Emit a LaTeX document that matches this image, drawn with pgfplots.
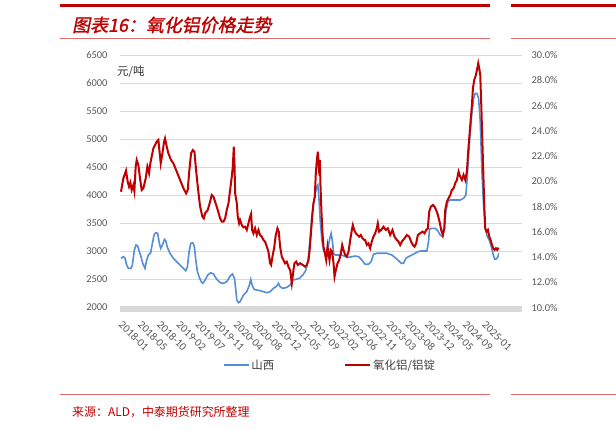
\documentclass[border=0pt]{standalone}
\usepackage{fontspec}
\setmainfont{Carlito}
\newfontfamily\cjk{Noto Sans CJK SC}
\newfontfamily\cjktitle[FakeSlant=0.2,FakeBold=1.5]{Noto Sans CJK SC}
\usepackage{pgfplots}
\pgfplotsset{compat=1.18}

\definecolor{hdred}{RGB}{192,0,0}
\definecolor{rulered}{RGB}{222,110,110}
\definecolor{sxblue}{RGB}{85,142,213}
\definecolor{ratred}{RGB}{192,0,0}
\definecolor{tickgray}{RGB}{89,89,89}
\definecolor{gridgray}{RGB}{217,217,217}

\pgfplotsset{
  base/.style={
    scale only axis, width=402bp, height=252.5bp,
    at={(120bp,122.5bp)}, anchor=south west,
    xmin=0, xmax=93,
    axis line style={draw=none},
    tick style={draw=none},
    tick label style={font=\fontsize{10.5}{12}\selectfont, text=tickgray},
    /pgf/number format/assume math mode=true,
    /pgf/number format/1000 sep={},
    clip=false,
  }
}

\begin{document}
\begin{tikzpicture}
\fill[white] (0,0) rectangle (616bp,430bp);
\useasboundingbox (0,0) rectangle (616bp,430bp);

% page decorations
\draw[hdred, line width=3bp] (60bp,424bp) -- (490bp,424bp);
\draw[hdred, line width=3bp] (511bp,424bp) -- (616bp,424bp);
\draw[rulered, line width=1bp] (60bp,391bp) -- (490bp,391bp);
\draw[rulered, line width=1bp] (511bp,391bp) -- (616bp,391bp);
\draw[rulered, line width=1bp] (60bp,35bp) -- (490bp,35bp);
\draw[rulered, line width=1bp] (511bp,35bp) -- (616bp,35bp);
\node[anchor=west, inner sep=0, font=\cjktitle\fontsize{18}{20}\selectfont, text=hdred] at (72bp,405bp) {图表16：氧化铝价格走势};
\node[anchor=west, inner sep=0, font=\cjk\fontsize{12}{14}\selectfont, text=hdred] at (72bp,18bp) {来源：ALD，中泰期货研究所整理};

% left axis: Shanxi price
\begin{axis}[base,
  ymin=2000, ymax=6500,
  ytick={2000,2500,3000,3500,4000,4500,5000,5500,6000,6500},
  ymajorgrids, grid style={gridgray, line width=0.8bp},
  yticklabel style={xshift=-9bp},
  xtick={0,4.421,8.842,13.263,17.684,22.105,26.526,30.947,35.368,39.789,44.211,48.632,53.053,57.474,61.895,66.316,70.737,75.158,79.579,84},
  xticklabels={2018-01,2018-05,2018-10,2019-02,2019-07,2019-11,2020-04,2020-08,2020-12,2021-05,2021-09,2022-02,2022-06,2022-11,2023-03,2023-08,2023-12,2024-05,2024-09,2025-01},
  xticklabel style={rotate=-45, anchor=north west, xshift=8bp, yshift=-3bp, font=\fontsize{11}{12}\selectfont},
  legend style={at={(0.522,-0.228)}, anchor=center, draw=none, fill=none,
    font=\cjk\fontsize{11.5}{13}\selectfont, text=black!75,
    legend columns=2, /tikz/every even column/.append style={column sep=68bp}},
  legend image code/.code={\draw[#1] (0bp,0bp) -- (25bp,0bp);},
]
\draw[gridgray, line width=5bp] ([yshift=-1.5bp]rel axis cs:0,0) -- ([yshift=-1.5bp]rel axis cs:1,0);
\addplot[sxblue, line width=1.6bp] coordinates {
(0.23,2876)(0.77,2906)(1.16,2876)(1.55,2757)(1.93,2698)(2.55,2698)(2.86,2757)(3.32,3024)(3.71,3114)(4.09,3096)(4.48,2995)(4.86,2906)(5.25,2787)(5.79,2698)(6.18,2846)(6.56,2935)(7.10,2977)(7.49,3143)(7.88,3292)(8.26,3333)(8.72,3321)(9.11,3143)(9.42,3054)(9.81,3114)(10.27,3214)(10.58,3191)(10.96,3072)(11.58,2965)(12.35,2876)(13.13,2817)(13.90,2757)(14.67,2698)(15.21,2656)(15.60,2727)(15.98,2995)(16.37,3143)(16.83,3155)(17.22,3084)(17.53,2846)(17.91,2638)(18.30,2549)(18.76,2460)(19.15,2430)(19.69,2490)(20.30,2579)(21.00,2620)(21.62,2597)(22.39,2502)(23.16,2442)(23.93,2430)(24.70,2460)(25.48,2561)(26.02,2597)(26.48,2520)(26.79,2312)(27.02,2133)(27.41,2086)
(27.78,2104)(28.55,2223)(29.32,2282)(29.94,2401)(30.25,2502)(30.56,2401)(31.02,2324)(31.64,2312)(32.41,2300)(33.18,2282)(33.96,2264)(34.73,2282)(35.50,2341)(36.27,2383)(36.66,2430)(37.04,2371)(37.66,2341)(38.59,2359)(39.36,2401)(39.98,2490)(40.75,2502)(41.52,2520)(42.29,2579)(42.83,2638)(43.22,2727)(43.61,2906)(44.00,3262)(44.38,3618)(44.76,3856)(45.15,4034)(45.54,4153)(45.77,4183)(46.00,3975)(46.31,3559)(46.69,3203)(47.08,3024)(47.47,2965)(47.85,3024)(48.24,3114)(48.62,3262)(48.85,3321)(49.16,3173)(49.40,2965)(49.78,2935)(50.55,2935)(51.32,2935)(52.10,2906)(52.87,2894)(53.64,2906)(54.41,2917)(55.19,2906)(55.96,2846)
(56.71,2770)(57.48,2770)(58.10,2817)(58.64,2948)(59.41,2966)(60.57,2966)(61.73,2966)(62.89,2936)(64.04,2865)(65.05,2788)(65.59,2788)(66.13,2877)(66.75,2906)(67.52,2936)(68.29,2966)(68.91,2995)(69.68,3007)(70.45,3007)(70.99,3007)(71.38,3174)(71.61,3399)(72.15,3411)(72.92,3411)(73.54,3364)(74.08,3292)(74.62,3263)(75.08,3411)(75.39,3708)(75.85,3886)(76.40,3916)(77.17,3916)(77.94,3916)(78.71,3916)(79.48,3946)(80.02,4005)(80.26,4243)(80.64,4718)(81.03,5134)(81.41,5460)(81.80,5728)(82.18,5817)(82.57,5817)(82.96,5728)(83.34,5312)(83.73,4421)(84.11,3827)(84.50,3411)(84.97,3263)(85.43,3203)(85.89,3085)(86.36,2936)(86.66,2865)(87.05,2865)(87.44,2906)(87.59,2966)
};
\addlegendentry{山西}
\addlegendimage{ratred, line width=2bp}
\addlegendentry{氧化铝/铝锭}
\end{axis}

% right axis: alumina / aluminium ratio
\begin{axis}[base,
  ymin=10, ymax=30,
  ytick={10,12,14,16,18,20,22,24,26,28,30},
  yticklabel pos=right,
  yticklabel={\pgfmathprintnumber[fixed,fixed zerofill,precision=1]{\tick}\%},
  yticklabel style={xshift=6bp},
  xtick=\empty,
]
\addplot[ratred, line width=2bp] coordinates {
(0.23,19.17)(0.77,20.23)(1.39,20.84)(1.78,19.97)(2.09,19.57)(2.39,19.89)(2.70,19.31)(3.09,19.70)(3.32,19.23)(3.63,21.15)(3.86,21.68)(4.25,21.29)(4.63,20.23)(5.02,19.31)(5.40,19.44)(5.95,20.23)(6.33,21.15)(6.72,20.63)(6.95,21.29)(7.33,21.95)(7.72,22.61)(8.11,22.87)(8.49,23.13)(8.88,23.27)(9.11,22.47)(9.42,21.42)(9.81,22.21)(10.19,23.13)(10.42,23.40)(10.81,22.74)(11.20,22.21)(11.81,21.68)(12.35,21.42)(13.13,20.76)(13.90,20.10)(14.67,19.44)(15.29,19.04)(15.67,19.31)(15.98,20.63)(16.44,22.21)(16.83,22.47)(17.22,22.34)(17.60,20.89)(17.99,19.57)(18.53,17.99)(19.07,17.19)(19.38,17.06)(19.69,17.46)(20.30,17.72)(20.84,18.38)(21.23,18.91)(21.62,18.78)(22.00,18.38)(22.62,17.72)(23.16,17.06)(23.55,16.80)(23.93,16.80)(24.32,17.06)(24.70,17.72)(25.09,18.25)(25.48,19.31)(25.86,20.36)(26.09,21.15)(26.33,22.74)(26.48,21.42)(26.64,19.04)(27.02,18.25)(27.25,17.19)(27.56,16.67)
(27.78,16.93)(28.17,16.53)(28.55,16.35)(28.94,16.40)(29.32,16.14)(29.71,16.67)(30.10,17.19)(30.33,17.41)(30.56,16.14)(30.87,15.87)(31.25,16.27)(31.64,15.74)(32.03,16.14)(32.41,15.74)(32.80,15.61)(33.18,15.35)(33.57,15.21)(33.96,14.82)(34.34,14.42)(34.73,13.50)(34.96,13.37)(35.27,14.03)(35.65,14.69)(36.04,15.74)(36.42,16.27)(36.73,16.01)(37.04,14.82)(37.43,14.03)(37.81,13.76)(38.20,13.50)(38.59,13.63)(38.97,13.23)(39.36,12.97)(39.75,11.91)(40.13,12.97)(40.36,13.50)(40.75,13.63)(41.14,13.37)(41.68,13.50)(42.29,13.37)(42.83,13.23)(43.22,13.37)(43.61,13.76)(43.84,14.42)(44.15,15.74)(44.46,17.19)(44.76,18.25)(45.07,18.78)(45.30,20.63)(45.54,21.68)(45.77,22.34)(46.00,21.15)(46.23,21.68)(46.39,19.57)(46.62,17.46)(46.85,15.87)(47.08,14.82)(47.39,14.29)(47.70,13.76)(48.01,14.82)(48.24,14.29)(48.47,13.76)(48.78,14.55)(49.09,14.42)(49.40,13.50)(49.63,12.44)(49.94,12.97)(50.32,13.50)(50.71,13.76)(51.09,14.29)(51.40,14.95)(51.71,14.55)(52.10,14.16)(52.48,14.03)(52.87,14.42)(53.26,15.35)(53.64,16.14)(53.87,16.53)(54.18,16.14)(54.57,15.87)(54.95,15.74)(55.34,15.61)(55.72,15.74)(56.11,15.48)(56.50,15.35)
(56.71,15.35)(57.10,14.95)(57.48,15.08)(57.87,14.69)(58.25,15.22)(58.64,15.61)(59.03,15.88)(59.41,16.27)(59.64,16.67)(59.95,16.01)(60.42,16.14)(60.96,16.40)(61.50,16.14)(61.96,16.27)(62.50,15.74)(63.04,16.14)(63.50,15.61)(64.04,15.35)(64.43,15.22)(64.82,14.95)(65.20,15.22)(65.82,15.48)(66.36,15.74)(66.90,15.61)(67.36,15.22)(67.75,14.95)(68.14,14.82)(68.52,15.08)(68.91,15.74)(69.45,15.88)(70.00,16.01)(70.45,15.88)(70.84,16.14)(71.22,16.27)(71.53,17.59)(71.92,17.99)(72.38,18.12)(72.77,17.99)(73.15,17.72)(73.54,17.33)(73.93,16.80)(74.31,16.14)(74.70,15.74)(75.01,16.27)(75.24,17.72)(75.62,18.38)(76.01,18.65)(76.40,18.91)(76.78,19.31)(77.17,19.44)(77.55,19.84)(77.94,20.10)(78.33,20.76)(78.71,20.36)(79.10,20.10)(79.48,20.50)(79.87,20.10)(80.26,20.76)(80.49,22.08)(80.79,23.40)(81.10,24.72)(81.41,26.04)(81.65,27.36)(81.95,28.02)(82.34,28.42)(82.65,28.94)(82.88,29.34)(83.11,28.94)(83.34,28.42)(83.58,26.04)(83.81,23.40)(84.04,20.76)(84.27,18.12)(84.50,16.27)(84.81,16.01)(85.12,16.14)(85.43,15.61)(85.74,15.35)(86.05,14.95)(86.36,14.69)(86.66,14.56)(86.97,14.69)(87.28,14.56)(87.59,14.74)
};
\end{axis}

\node[anchor=west, inner sep=0, font=\cjk\fontsize{11.5}{13}\selectfont, text=black!80] at (117bp,358bp) {元/吨};
\end{tikzpicture}
\end{document}
